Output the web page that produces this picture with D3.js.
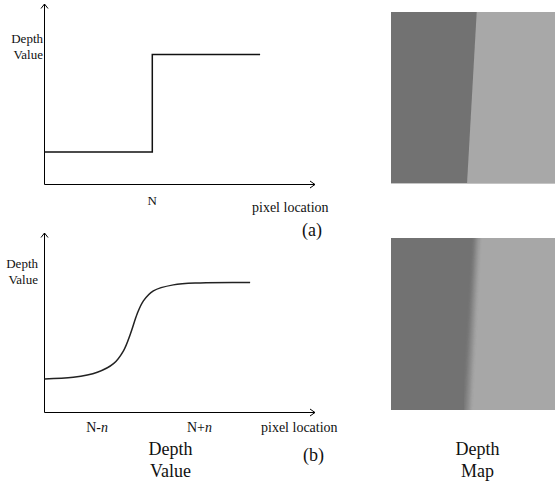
<!DOCTYPE html>
<html>
<head>
<meta charset="utf-8">
<script src="https://cdn.jsdelivr.net/npm/d3@7"></script>
<style>
  html, body { margin: 0; padding: 0; background: #fff; }
  svg { display: block; }
  text { font-family: "Liberation Serif", "DejaVu Serif", serif; fill: #111; }
</style>
</head>
<body>
<svg id="chart" width="555" height="484"></svg>
<script>
// ---- data (abstract units) ----
const stepX = [0, 4, 8];               // pixel location (a)
const stepY = [1.8, 7.2, 7.2];         // depth value (a)
const curveX = [0, 1.07, 1.96, 2.56, 2.93, 3.19, 3.44, 3.67, 4.04, 4.78, 5.78, 7.63];
const curveY = [1.87, 1.96, 2.24, 2.72, 3.44, 4.39, 5.5, 6.22, 6.78, 7.11, 7.22, 7.24];
const tickLabelsA = [{v: 4, t: "N"}];
const tickLabelsB = [{v: 1.95, base: "N-", it: "n"}, {v: 5.75, base: "N+", it: "n"}];
// depth-map boundary (fraction of width at top / bottom)
const mapA = {dark: "#727272", light: "#a8a8a8", top: 0.526, bottom: 0.46};
const mapB = {dark: "#727272", light: "#a7a7a7", top: 0.533, bottom: 0.472};

const svg = d3.select("#chart");

function arrowAxes(g, x, y) {
  const x0 = x(0), y0 = y(0), x1 = x.range()[1], y1 = y.range()[1];
  g.append("line").attr("x1", x0).attr("y1", y0).attr("x2", x0).attr("y2", y1)
    .attr("stroke", "#000").attr("stroke-width", 1);
  g.append("line").attr("x1", x0).attr("y1", y0).attr("x2", x1 + 1).attr("y2", y0)
    .attr("stroke", "#000").attr("stroke-width", 1);
  g.append("path").attr("d", `M${x0 - 3.5},${y1 + 4.5}L${x0},${y1}L${x0 + 3.5},${y1 + 4.5}`)
    .attr("fill", "none").attr("stroke", "#000").attr("stroke-width", 1);
  g.append("path").attr("d", `M${x1 - 4},${y0 - 3.5}L${x1 + 1},${y0}L${x1 - 4},${y0 + 3.5}`)
    .attr("fill", "none").attr("stroke", "#000").attr("stroke-width", 1);
}

// ---- panel (a) ----
const xA = d3.scaleLinear().domain([0, 10]).range([44.5, 314]);
const yA = d3.scaleLinear().domain([0, 10]).range([184.5, 4]);
const gA = svg.append("g");
arrowAxes(gA, xA, yA);
gA.append("path")
  .datum(stepX.map((d, i) => [d, stepY[i]]))
  .attr("d", d3.line().x(d => xA(d[0])).y(d => yA(d[1])).curve(d3.curveStepAfter))
  .attr("fill", "none").attr("stroke", "#111").attr("stroke-width", 1.5);
gA.append("text").attr("x", 43).attr("y", 43).attr("text-anchor", "end").attr("font-size", 13).text("Depth");
gA.append("text").attr("x", 43).attr("y", 59).attr("text-anchor", "end").attr("font-size", 13).text("Value");
gA.selectAll(".tk").data(tickLabelsA).join("text")
  .attr("x", d => xA(d.v)).attr("y", 205).attr("text-anchor", "middle").attr("font-size", 13).text(d => d.t);
gA.append("text").attr("x", 252).attr("y", 212).attr("font-size", 14).text("pixel location");
gA.append("text").attr("x", 302).attr("y", 236).attr("font-size", 18).text("(a)");

// ---- panel (b) ----
const xB = d3.scaleLinear().domain([0, 10]).range([44.5, 314]);
const yB = d3.scaleLinear().domain([0, 10]).range([412.5, 233]);
const gB = svg.append("g");
arrowAxes(gB, xB, yB);
gB.append("path")
  .datum(curveX.map((d, i) => [d, curveY[i]]))
  .attr("d", d3.line().x(d => xB(d[0])).y(d => yB(d[1])).curve(d3.curveCatmullRom.alpha(0.5)))
  .attr("fill", "none").attr("stroke", "#222").attr("stroke-width", 1.5);
gB.append("text").attr("x", 38).attr("y", 268).attr("text-anchor", "end").attr("font-size", 13).text("Depth");
gB.append("text").attr("x", 38).attr("y", 284).attr("text-anchor", "end").attr("font-size", 13).text("Value");
const tb = gB.selectAll(".tk").data(tickLabelsB).join("text")
  .attr("x", d => xB(d.v)).attr("y", 432).attr("text-anchor", "middle").attr("font-size", 14);
tb.append("tspan").text(d => d.base);
tb.append("tspan").attr("font-style", "italic").text(d => d.it);
gB.append("text").attr("x", 261).attr("y", 432).attr("font-size", 14).text("pixel location");
gB.append("text").attr("x", 303).attr("y", 461).attr("font-size", 18).text("(b)");
gB.append("text").attr("x", 170.5).attr("y", 455).attr("text-anchor", "middle").attr("font-size", 18).text("Depth");
gB.append("text").attr("x", 170.5).attr("y", 477).attr("text-anchor", "middle").attr("font-size", 18).text("Value");

// ---- depth maps ----
const defs = svg.append("defs");
defs.append("filter").attr("id", "blurX").attr("x", "-20%").attr("y", "-20%").attr("width", "140%").attr("height", "140%")
  .append("feGaussianBlur").attr("stdDeviation", "2.2 0");

function depthMap(x0, y0, w, h, m, blur, id) {
  const g = svg.append("g");
  defs.append("clipPath").attr("id", id).append("rect").attr("x", x0).attr("y", y0).attr("width", w).attr("height", h);
  const gc = g.append("g").attr("clip-path", `url(#${id})`);
  gc.append("rect").attr("x", x0).attr("y", y0).attr("width", w).attr("height", h).attr("fill", m.dark);
  const xt = x0 + w * m.top, xb = x0 + w * m.bottom;
  const poly = gc.append("path")
    .attr("d", `M${xt},${y0 - 10}L${x0 + w + 20},${y0 - 10}L${x0 + w + 20},${y0 + h + 10}L${xb},${y0 + h + 10}Z`)
    .attr("fill", m.light);
  if (blur) {
    poly.attr("filter", "url(#blurX)");
    gc.append("path")
      .attr("d", `M${xt - 1.5},${y0}L${xb - 1.5},${y0 + h}`)
      .attr("stroke", "#b4b4b4").attr("stroke-width", 2).attr("opacity", 0.6).attr("filter", "url(#blurX)");
  }
  return g;
}
depthMap(391, 12, 164, 172, mapA, false, "clipA");
svg.append("line").attr("x1", 391).attr("x2", 555).attr("y1", 183.5).attr("y2", 183.5).attr("stroke", "#c4c4c4").attr("stroke-width", 1);
depthMap(391, 238, 164, 172, mapB, true, "clipB");

svg.append("text").attr("x", 477.5).attr("y", 455).attr("text-anchor", "middle").attr("font-size", 18).text("Depth");
svg.append("text").attr("x", 477.5).attr("y", 477).attr("text-anchor", "middle").attr("font-size", 18).text("Map");
</script>
</body>
</html>
